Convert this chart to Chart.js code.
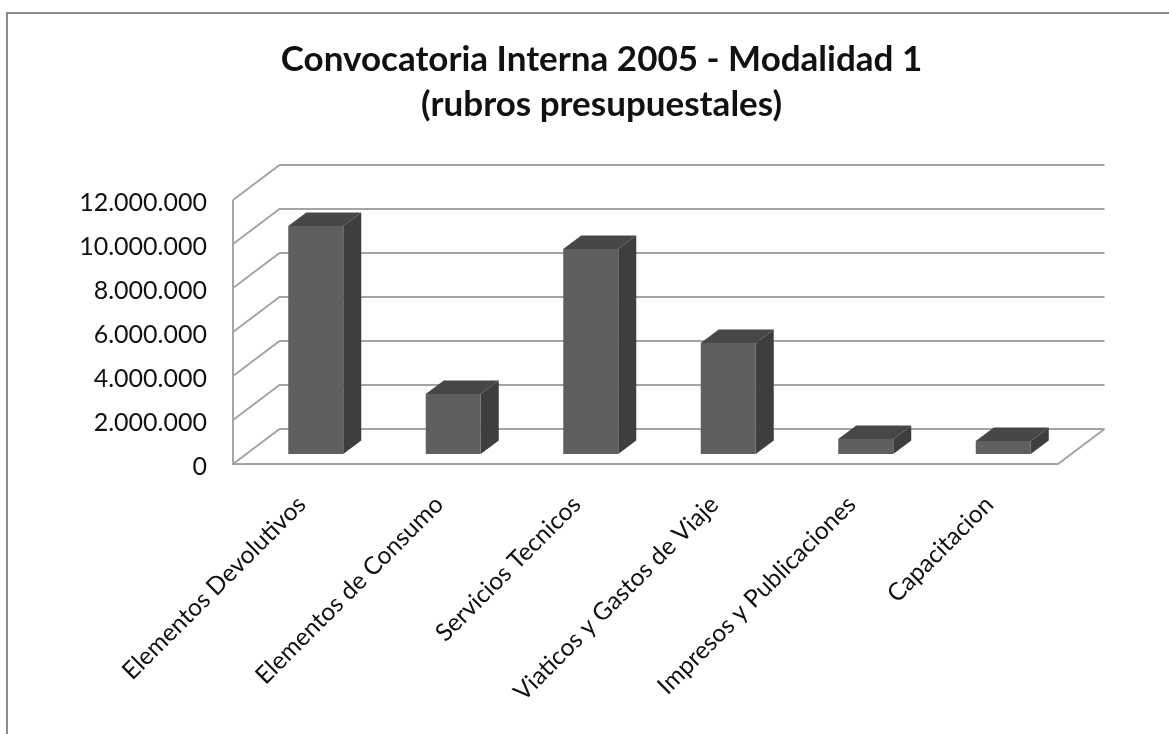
<!DOCTYPE html>
<html>
<head>
<meta charset="utf-8">
<title>Convocatoria Interna 2005</title>
<script src="https://cdn.jsdelivr.net/npm/chart.js@4"></script>
<style>
    body { margin: 0; background: #fff; }
    #wrap { position: relative; width: 1169px; height: 734px; overflow: hidden; }
    #frame { position: absolute; left: 6px; top: 12px; width: 1200px; height: 800px; border: 2px solid #8c8c8c; }
    #chart { position: absolute; left: 0; top: 0; }
</style>
</head>
<body>
<div id="wrap">
    <div id="frame"></div>
    <canvas id="chart" width="1169" height="734"></canvas>
</div>
<script>
const titleLines = ['Convocatoria Interna 2005 - Modalidad 1', '(rubros presupuestales)'];
const categories = ['Elementos Devolutivos', 'Elementos de Consumo', 'Servicios Tecnicos',
    'Viaticos y Gastos de Viaje', 'Impresos y Publicaciones', 'Capacitacion'];
const values = [10360000, 2730000, 9320000, 5050000, 680000, 590000];
const yTickLabels = ['0', '2.000.000', '4.000.000', '6.000.000', '8.000.000', '10.000.000', '12.000.000'];

// 3d look
const wallX = 46.5, wallY = -35;
const barShiftX = 14, barShiftY = -10;
const barDepthX = 18, barDepthY = -13.5;

const gridColor = '#a4a4a4';
const textColor = '#111';

const fake3d = {
    id: 'fake3d',
    beforeDatasetsDraw(chart) {
        const c = chart.ctx;
        const area = chart.chartArea;
        const y = chart.scales.y;

        c.save();
        c.strokeStyle = gridColor;
        c.lineWidth = 2;
        y.ticks.forEach((t) => {
            const py = y.getPixelForValue(t.value);
            c.beginPath();
            c.moveTo(area.left, py);
            c.lineTo(area.left + wallX, py + wallY);
            c.lineTo(area.right + wallX, py + wallY);
            c.stroke();
        });
        // front edges
        c.beginPath();
        c.moveTo(area.left, y.getPixelForValue(12000000));
        c.lineTo(area.left, area.bottom);
        c.lineTo(area.right, area.bottom);
        c.lineTo(area.right + wallX, area.bottom + wallY);
        c.stroke();
        c.restore();

        // bar sides, front face is the normal chart.js bar
        c.save();
        c.translate(barShiftX, barShiftY);
        chart.getDatasetMeta(0).data.forEach((bar) => {
            const l = bar.x - bar.width / 2, r = bar.x + bar.width / 2;
            c.fillStyle = '#474747';
            c.beginPath();
            c.moveTo(l, bar.y);
            c.lineTo(l + barDepthX, bar.y + barDepthY);
            c.lineTo(r + barDepthX, bar.y + barDepthY);
            c.lineTo(r, bar.y);
            c.closePath();
            c.fill();
            c.fillStyle = '#3e3e3e';
            c.beginPath();
            c.moveTo(r, bar.y);
            c.lineTo(r + barDepthX, bar.y + barDepthY);
            c.lineTo(r + barDepthX, bar.base + barDepthY);
            c.lineTo(r, bar.base);
            c.closePath();
            c.fill();
        });
        c.restore();

        c.save();
        c.translate(barShiftX, barShiftY);
    },
    afterDatasetsDraw(chart) {
        chart.ctx.restore();
    }
};

new Chart(document.getElementById('chart'), {
    type: 'bar',
    data: {
        labels: categories,
        datasets: [{
            data: values,
            backgroundColor: '#5f5f5f',
            barPercentage: 0.4,
            categoryPercentage: 1
        }]
    },
    options: {
        responsive: false,
        animation: false,
        layout: { padding: { left: 34, right: 0, top: 0, bottom: 0 } },
        plugins: {
            legend: { display: false },
            tooltip: { enabled: false },
            title: {
                display: true,
                text: titleLines,
                color: textColor,
                font: { family: 'Lato', size: 35, weight: 'bold', lineHeight: 1.286 },
                padding: { top: 37.5, bottom: 72.5 }
            }
        },
        scales: {
            x: {
                grid: { display: false },
                border: { display: false },
                afterFit: (scale) => { scale.height = 270; },
                ticks: {
                    color: textColor,
                    font: { family: 'Lato', size: 24.5 },
                    minRotation: 45,
                    maxRotation: 45,
                    padding: 18
                }
            },
            y: {
                min: 0,
                max: 12000000,
                grid: { display: false, drawTicks: false },
                border: { display: false },
                afterFit: (scale) => { scale.width = 199; },
                ticks: {
                    stepSize: 2000000,
                    color: textColor,
                    font: { family: 'Lato', size: 25 },
                    padding: 26,
                    labelOffset: 3,
                    callback: (v, i) => yTickLabels[i]
                }
            },
            // empty axis, only holds the room right of the floor so the title stays centred
            spacer: {
                position: 'right',
                grid: { display: false, drawTicks: false },
                border: { display: false },
                ticks: { display: false },
                afterFit: (scale) => { scale.width = 111; }
            }
        }
    },
    plugins: [fake3d]
});
</script>
</body>
</html>
